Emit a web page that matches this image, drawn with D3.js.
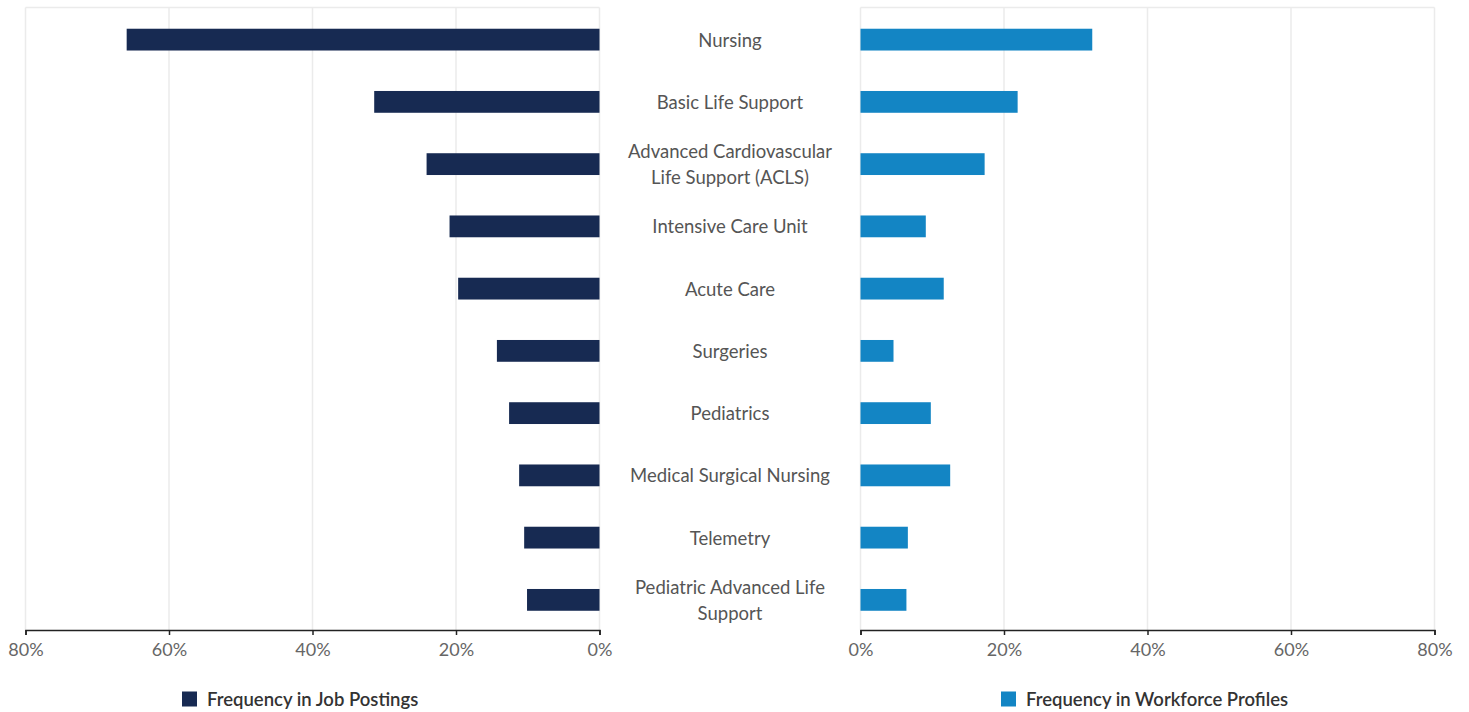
<!DOCTYPE html>
<html>
<head>
<meta charset="utf-8">
<script src="https://cdn.jsdelivr.net/npm/d3@7"></script>
<style>
  html, body { margin: 0; padding: 0; background: #fff; }
  svg { display: block; font-family: Lato, "Open Sans", sans-serif; }
</style>
</head>
<body>
<svg id="chart" width="1469" height="712"></svg>
<script>
// Skills compared: share of job postings vs share of workforce profiles
const categories = [
  "Nursing",
  "Basic Life Support",
  "Advanced Cardiovascular Life Support (ACLS)",
  "Intensive Care Unit",
  "Acute Care",
  "Surgeries",
  "Pediatrics",
  "Medical Surgical Nursing",
  "Telemetry",
  "Pediatric Advanced Life Support"
];
// Two-line wrapping used for the long labels
const labelLines = [
  ["Nursing"],
  ["Basic Life Support"],
  ["Advanced Cardiovascular", "Life Support (ACLS)"],
  ["Intensive Care Unit"],
  ["Acute Care"],
  ["Surgeries"],
  ["Pediatrics"],
  ["Medical Surgical Nursing"],
  ["Telemetry"],
  ["Pediatric Advanced Life", "Support"]
];
const jobPostings = [65.9, 31.4, 24.1, 20.9, 19.7, 14.3, 12.6, 11.2, 10.5, 10.1];
const workforceProfiles = [32.3, 21.9, 17.3, 9.1, 11.6, 4.6, 9.8, 12.5, 6.6, 6.4];
const tickValues = [0, 20, 40, 60, 80];
const seriesNames = ["Frequency in Job Postings", "Frequency in Workforce Profiles"];

const colorJobs = "#172a52";
const colorProfiles = "#1385c4";
const gridColor = "#ebebeb";

const svg = d3.select("#chart");

const plotTop = 7.5, plotBottom = 630;
const y = d3.scaleBand()
  .domain(categories)
  .range([plotTop + 1, plotBottom + 1])
  .paddingInner(0.65)
  .paddingOuter(0.325);

const xLeft = d3.scaleLinear().domain([0, 80]).range([599.5, 25.5]);
const xRight = d3.scaleLinear().domain([0, 80]).range([860.5, 1434.5]);

function drawPanel(x, values, color, side) {
  const g = svg.append("g");
  const [r0, r1] = x.range();
  const xmin = Math.min(r0, r1), xmax = Math.max(r0, r1);

  // vertical grid lines
  g.selectAll("line.grid")
    .data(tickValues)
    .join("line")
    .attr("class", "grid")
    .attr("x1", d => x(d))
    .attr("x2", d => x(d))
    .attr("y1", plotTop)
    .attr("y2", plotBottom)
    .attr("stroke", gridColor)
    .attr("stroke-width", 1.5);
  // top frame line
  g.append("line")
    .attr("x1", xmin).attr("x2", xmax)
    .attr("y1", plotTop).attr("y2", plotTop)
    .attr("stroke", gridColor)
    .attr("stroke-width", 1.5);

  // bars
  g.selectAll("rect.bar")
    .data(values)
    .join("rect")
    .attr("class", "bar")
    .attr("x", d => side === "left" ? x(d) : x(0))
    .attr("width", d => Math.abs(x(d) - x(0)))
    .attr("y", (d, i) => y(categories[i]))
    .attr("height", y.bandwidth())
    .attr("fill", color);

  // bottom axis
  const axis = d3.axisBottom(x)
    .tickValues(tickValues)
    .tickFormat(d => d + "%")
    .tickSizeInner(5)
    .tickSizeOuter(5)
    .tickPadding(8);
  const ag = svg.append("g")
    .attr("transform", `translate(0,${plotBottom})`)
    .call(axis);
  ag.select(".domain").attr("stroke", "#222").attr("stroke-width", 1.5);
  ag.selectAll(".tick line").attr("stroke", "#222").attr("stroke-width", 1.5);
  ag.selectAll(".tick text")
    .attr("fill", "#666")
    .style("font-family", "Lato, sans-serif")
    .style("font-size", "18px");
}

drawPanel(xLeft, jobPostings, colorJobs, "left");
drawPanel(xRight, workforceProfiles, colorProfiles, "right");

// category labels in the centre column
const labelX = (xLeft(0) + xRight(0)) / 2;
const lineH = 26;
const labels = svg.append("g")
  .attr("font-size", "18.5px")
  .attr("fill", "#555")
  .attr("text-anchor", "middle");
labels.selectAll("text")
  .data(categories)
  .join("text")
  .attr("x", labelX)
  .attr("y", d => y(d) + y.bandwidth() / 2)
  .each(function (d, i) {
    const lines = labelLines[i];
    const t = d3.select(this);
    const offset = -(lines.length - 1) * lineH / 2;
    lines.forEach((ln, k) => {
      t.append("tspan")
        .attr("x", labelX)
        .attr("dy", k === 0 ? offset : lineH)
        .attr("dominant-baseline", "central")
        .text(ln);
    });
  });

// legend
const legendItems = [
  { name: seriesNames[0], color: colorJobs, x: 182 },
  { name: seriesNames[1], color: colorProfiles, x: 1001 }
];
const lg = svg.append("g");
legendItems.forEach(it => {
  lg.append("rect")
    .attr("x", it.x).attr("y", 691.5)
    .attr("width", 15).attr("height", 15)
    .attr("fill", it.color);
  lg.append("text")
    .attr("x", it.x + 25).attr("y", 699)
    .attr("dominant-baseline", "central")
    .attr("font-size", "18.5px")
    .attr("font-weight", 600)
    .attr("fill", "#333")
    .text(it.name);
});
</script>
</body>
</html>
